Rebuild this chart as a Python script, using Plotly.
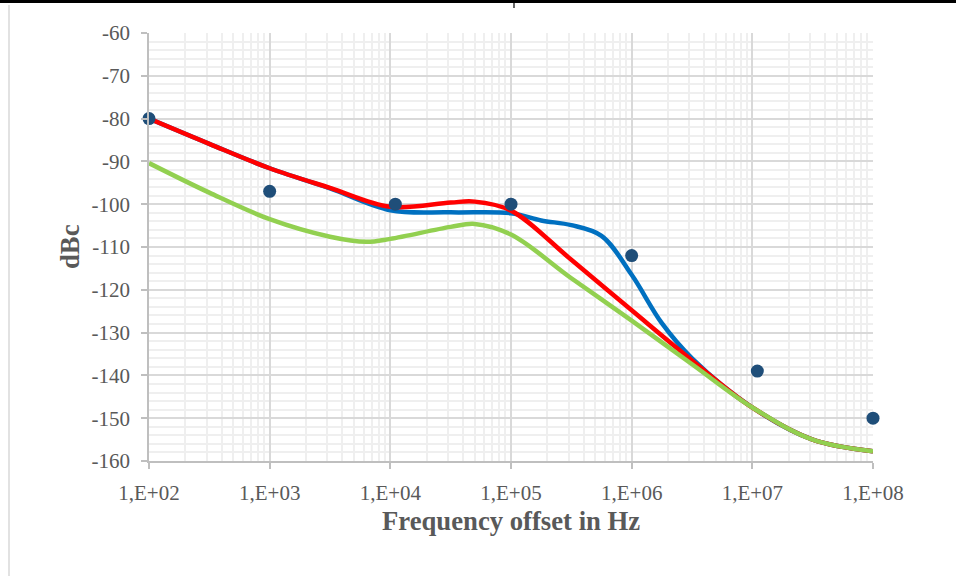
import plotly.graph_objects as go

# Measured phase-noise points
meas_freq = [100, 1000, 11000, 100000, 1000000, 11000000, 100000000]
meas_dbc = [-80, -97, -100, -100, -112, -139, -150]

# Simulated curves (frequency offset in Hz, level in dBc)
blue_freq = [100, 316, 1000, 3162, 10000, 31623, 100000, 177828, 316228,
             562341, 1000000, 1778279, 3162278, 10000000, 31622777, 100000000]
blue_dbc = [-80, -85.9, -91.6, -96.3, -101.4, -101.9, -102.1, -103.8, -104.9,
            -107.4, -116.5, -127.8, -136.0, -147.5, -155.0, -157.7]

red_freq = [100, 316, 1000, 3162, 10000, 31623, 50119, 100000, 316228,
            1000000, 3162278, 10000000, 31622777, 100000000]
red_dbc = [-80, -85.9, -91.6, -96.2, -100.6, -99.6, -99.4, -101.5, -113.0,
           -124.8, -136.5, -147.5, -155.0, -157.7]

green_freq = [100, 316, 1000, 3162, 6310, 10000, 31623, 50119, 100000, 316228,
              1000000, 3162278, 10000000, 31622777, 100000000]
green_dbc = [-90.4, -97.3, -103.5, -107.6, -108.8, -108.1, -105.3, -104.6, -107.1,
             -117.3, -127.2, -137.4, -147.5, -155.0, -157.7]

x_tickvals = [1e2, 1e3, 1e4, 1e5, 1e6, 1e7, 1e8]
x_ticktext = ["1,E+02", "1,E+03", "1,E+04", "1,E+05", "1,E+06", "1,E+07", "1,E+08"]
y_tickvals = [-60, -70, -80, -90, -100, -110, -120, -130, -140, -150, -160]
y_ticktext = ["-60", "-70", "-80", "-90", "-100", "-110", "-120", "-130", "-140", "-150", "-160"]

FONT = "Liberation Serif, Times New Roman, serif"
TXT = "#595959"

fig = go.Figure()
fig.add_trace(go.Scatter(x=blue_freq, y=blue_dbc, mode="lines",
                         line=dict(color="#0070C0", width=4.5, shape="spline", smoothing=1.0),
                         hoverinfo="skip"))
fig.add_trace(go.Scatter(x=red_freq, y=red_dbc, mode="lines",
                         line=dict(color="#FF0000", width=4.5, shape="spline", smoothing=1.0),
                         hoverinfo="skip"))
fig.add_trace(go.Scatter(x=green_freq, y=green_dbc, mode="lines",
                         line=dict(color="#92D050", width=4.5, shape="spline", smoothing=1.0),
                         hoverinfo="skip"))
fig.add_trace(go.Scatter(x=meas_freq, y=meas_dbc, mode="markers", cliponaxis=False,
                         marker=dict(color="#1F4E79", size=13, line=dict(width=0))))

W, H = 956, 576
L, R, T, B = 149, 873, 33, 461


def px(xp):
    return (xp - L) / (R - L)


def py(yp):
    return (B - yp) / (B - T)


fig.update_layout(
    width=W, height=H,
    margin=dict(l=L, r=W - R, t=T, b=H - B),
    paper_bgcolor="white", plot_bgcolor="white",
    showlegend=False,
    font=dict(family=FONT, color=TXT, size=21),
    xaxis=dict(type="log", range=[2, 8], tickvals=x_tickvals, ticktext=x_ticktext,
               showgrid=True, gridcolor="#d9d9d9", gridwidth=1.5,
               showline=True, linecolor="#bfbfbf", linewidth=1.5,
               ticks="outside", ticklen=6, tickcolor="#bfbfbf", tickwidth=1.5,
               ticklabelstandoff=6,
               tickfont=dict(family=FONT, size=21, color=TXT),
               minor=dict(dtick="D1", showgrid=True, gridcolor="#efefef", gridwidth=1.5,
                          ticks=""),
               zeroline=False),
    yaxis=dict(range=[-160, -60], tickvals=y_tickvals, ticktext=y_ticktext,
               showgrid=True, gridcolor="#d9d9d9", gridwidth=1.5,
               showline=True, linecolor="#bfbfbf", linewidth=1.5,
               ticks="outside", ticklen=6, tickcolor="#bfbfbf", tickwidth=1.5,
               ticklabelstandoff=7,
               tickfont=dict(family=FONT, size=21, color=TXT),
               minor=dict(dtick=2, showgrid=True, gridcolor="#efefef", gridwidth=1.5,
                          ticks=""),
               zeroline=False),
    annotations=[
        dict(text="<b>Frequency offset in Hz</b>", xref="paper", yref="paper",
             x=px(511), y=py(521), showarrow=False, xanchor="center", yanchor="middle",
             font=dict(family=FONT, size=26.7, color=TXT)),
        dict(text="<b>dBc</b>", xref="paper", yref="paper", textangle=-90,
             x=px(70), y=py(247), showarrow=False, xanchor="center", yanchor="middle",
             font=dict(family=FONT, size=26.7, color=TXT)),
    ],
    shapes=[
        dict(type="line", xref="paper", yref="paper", x0=px(9), x1=px(9),
             y0=py(5), y1=py(580), line=dict(color="#d9d9d9", width=1.5)),
        dict(type="rect", xref="paper", yref="paper", x0=px(-5), x1=px(960),
             y0=py(3), y1=py(-5), line=dict(width=0), fillcolor="black"),
        dict(type="line", xref="paper", yref="paper", x0=px(514), x1=px(514),
             y0=py(2), y1=py(8), line=dict(color="black", width=1.2)),
    ],
)

fig.write_html("out.html")
